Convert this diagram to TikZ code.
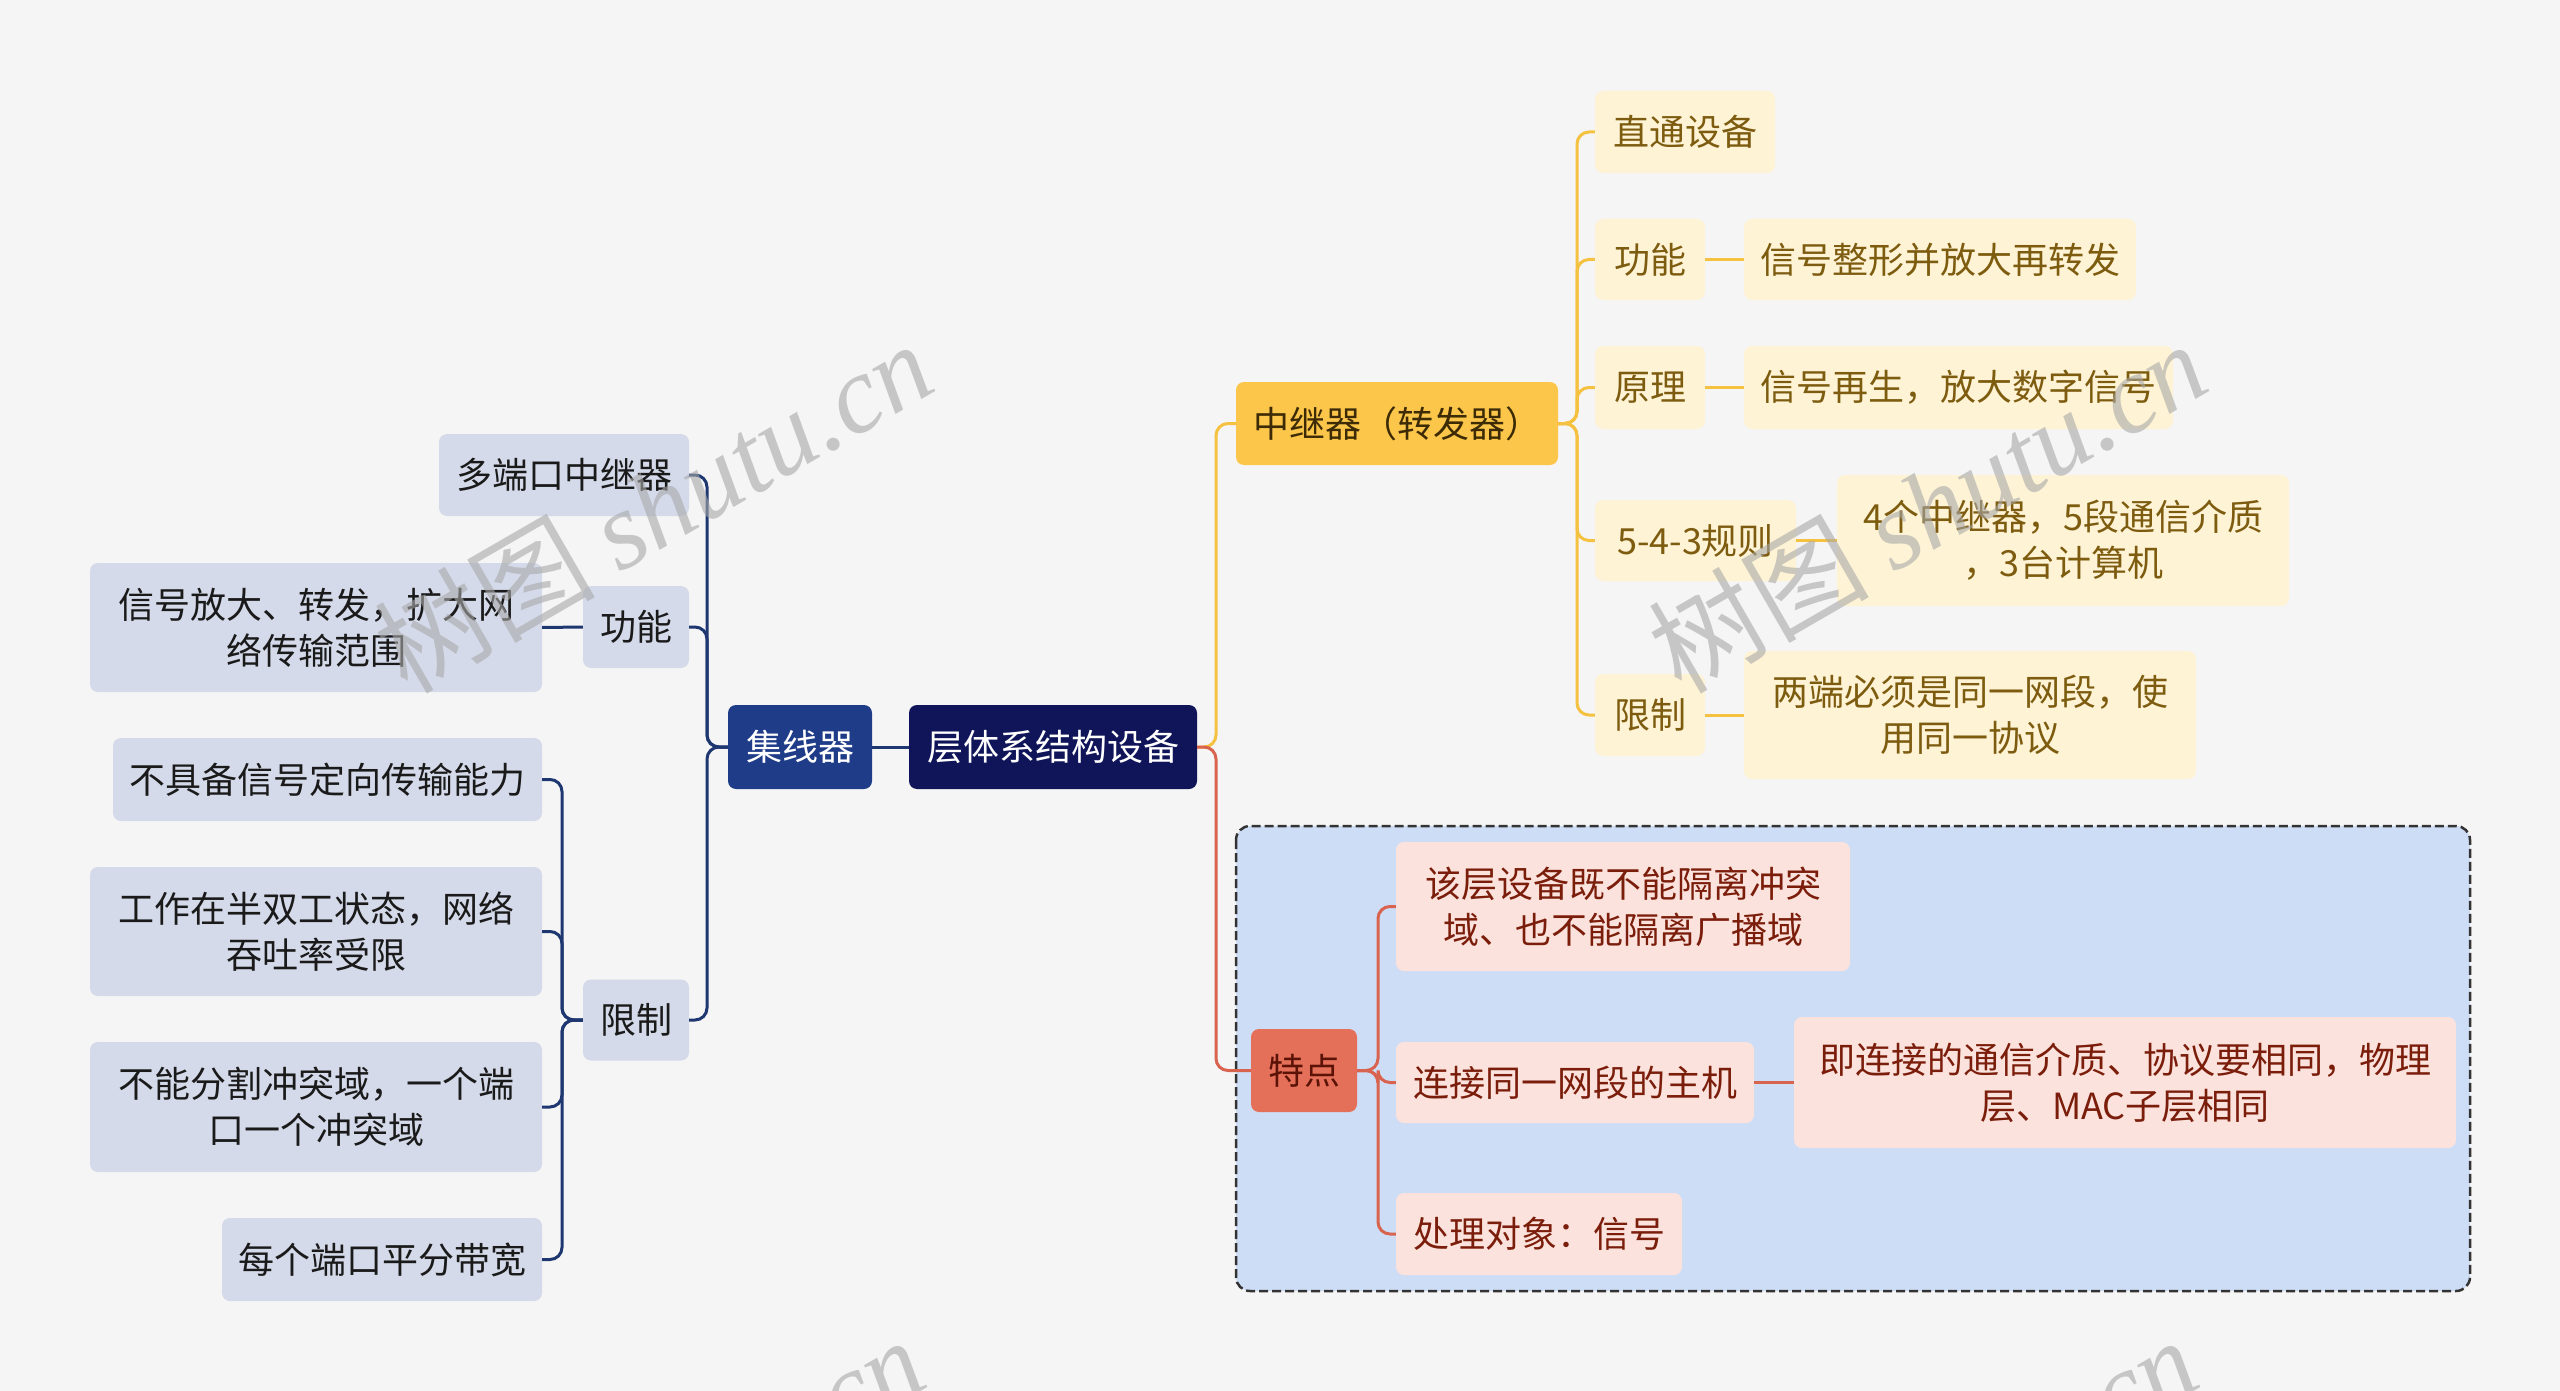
\documentclass[tikz,border=0pt]{standalone}
\usepackage{fontspec}
\setmainfont{Noto Sans CJK SC}
\newfontfamily\wmfont{Liberation Serif}
\usetikzlibrary{calc}
\definecolor{bg}{HTML}{F5F5F5}
\definecolor{rootc}{HTML}{0F1558}
\definecolor{hubc}{HTML}{1E3C87}
\definecolor{lfill}{HTML}{D4DAE9}
\definecolor{lline}{HTML}{1E3770}
\definecolor{ltext}{HTML}{1A1A1A}
\definecolor{yfill}{HTML}{FCC64B}
\definecolor{ytext}{HTML}{3D2B05}
\definecolor{ylight}{HTML}{FEF3D5}
\definecolor{ylt}{HTML}{7D5C10}
\definecolor{yline}{HTML}{F5C140}
\definecolor{rfill}{HTML}{E5705A}
\definecolor{rtext}{HTML}{5A1306}
\definecolor{rlight}{HTML}{FBE2DC}
\definecolor{rlt}{HTML}{7B1D0B}
\definecolor{rline}{HTML}{D8644F}
\definecolor{bluebox}{HTML}{CEDDF6}
\definecolor{wm}{HTML}{A8A8A8}
\tikzset{
  box/.style={rounded corners=8pt, inner sep=0pt, align=center, font=\fontsize{36}{46}\selectfont},
  rootbox/.style={box, fill=rootc, text=white},
  hubbox/.style={box, fill=hubc, text=white},
  lbox/.style={box, fill=lfill, text=ltext},
  ybox/.style={box, fill=yfill, text=ytext},
  ylbox/.style={box, fill=ylight, text=ylt},
  rbox/.style={box, fill=rfill, text=rtext},
  rlbox/.style={box, fill=rlight, text=rlt},
  conn/.style={line width=3pt, rounded corners=12pt},
  lconn/.style={conn, draw=lline},
  yconn/.style={conn, draw=yline},
  rconn/.style={conn, draw=rline},
  wmark/.style={text=wm, text opacity=0.6, rotate=30, font=\fontsize{110}{110}\selectfont},
}
\begin{document}
\begin{tikzpicture}[x=1pt,y=-1pt]
\fill[bg] (0,0) rectangle (2560,1391);
\useasboundingbox (0,0) rectangle (2560,1391);
% dashed group box
\draw[fill=bluebox, draw=black!80, line width=2.5pt, dash pattern=on 9pt off 4pt, rounded corners=14pt] (1236,826) rectangle (2470,1291);
% root and hub
\node[rootbox, minimum width=288, minimum height=84] (root) at (1053,747) {层体系结构设备};
\node[hubbox, minimum width=144, minimum height=84] (hub) at (800,747) {集线器};
% left side
\node[lbox, minimum width=250, minimum height=82] (mp) at (564,475) {多端口中继器};
\node[lbox, minimum width=106, minimum height=82] (gnL) at (636,627) {功能};
\node[lbox, minimum width=452, minimum height=129] (gnLd) at (316,627.5) {信号放大、转发，扩大网\\络传输范围};
\node[lbox, minimum width=106, minimum height=81] (xzL) at (636,1020) {限制};
\node[lbox, minimum width=429, minimum height=83] (xz1) at (327.5,779.5) {不具备信号定向传输能力};
\node[lbox, minimum width=452, minimum height=129] (xz2) at (316,931.5) {工作在半双工状态，网络\\吞吐率受限};
\node[lbox, minimum width=452, minimum height=130] (xz3) at (316,1107) {不能分割冲突域，一个端\\口一个冲突域};
\node[lbox, minimum width=320, minimum height=83] (xz4) at (382,1259.5) {每个端口平分带宽};
% right: repeater
\node[ybox, minimum width=322, minimum height=83] (rep) at (1397,423.5) {中继器（转发器）};
\node[ylbox, minimum width=180, minimum height=82] (zt) at (1685,132) {直通设备};
\node[ylbox, minimum width=110, minimum height=81] (gnR) at (1650,259.5) {功能};
\node[ylbox, minimum width=392, minimum height=81] (gnRd) at (1940,259.5) {信号整形并放大再转发};
\node[ylbox, minimum width=110, minimum height=83] (yl) at (1650,387.5) {原理};
\node[ylbox, minimum width=429, minimum height=83] (yld) at (1958.5,387.5) {信号再生，放大数字信号};
\node[ylbox, minimum width=201, minimum height=81] (gz) at (1695.5,540.5) {5-4-3规则};
\node[ylbox, minimum width=452, minimum height=131] (gzd) at (2063,540.5) {4个中继器，5段通信介质\\，3台计算机};
\node[ylbox, minimum width=110, minimum height=82] (xzR) at (1650,715) {限制};
\node[ylbox, minimum width=452, minimum height=128] (xzRd) at (1970,715) {两端必须是同一网段，使\\用同一协议};
% right: features
\node[rbox, minimum width=106, minimum height=83] (td) at (1304,1070.5) {特点};
\node[rlbox, minimum width=454, minimum height=129] (td1) at (1623,906.5) {该层设备既不能隔离冲突\\域、也不能隔离广播域};
\node[rlbox, minimum width=358, minimum height=81] (td2) at (1575,1082.5) {连接同一网段的主机};
\node[rlbox, minimum width=662, minimum height=131] (td2d) at (2125,1082.5) {即连接的通信介质、协议要相同，物理\\层、MAC子层相同};
\node[rlbox, minimum width=286, minimum height=82] (td3) at (1539,1234) {处理对象：信号};
% trunk coordinates
\coordinate (tL) at (707,747);
\coordinate (tXZ) at (562,1020);
\coordinate (tR) at (1216,747);
\coordinate (tY) at (1577,423.5);
\coordinate (tT) at (1378,1070.5);
% left connectors
\draw[lconn] (root.west) -- (hub.east);
\draw[lconn] (hub.west) -- (tL) |- (mp.east);
\draw[lconn] (hub.west) -- (tL) |- (gnL.east);
\draw[lconn] (hub.west) -- (tL) |- (xzL.east);
\draw[lconn] (gnL.west) -- (gnLd.east);
\draw[lconn] (xzL.west) -- (tXZ) |- (xz1.east);
\draw[lconn] (xzL.west) -- (tXZ) |- (xz2.east);
\draw[lconn] (xzL.west) -- (tXZ) |- (xz3.east);
\draw[lconn] (xzL.west) -- (tXZ) |- (xz4.east);
% right connectors
\draw[yconn] (root.east) -- (tR) |- (rep.west);
\draw[rconn] (root.east) -- (tR) |- (td.west);
\draw[yconn] (rep.east) -- (tY) |- (zt.west);
\draw[yconn] (rep.east) -- (tY) |- (gnR.west);
\draw[yconn] (rep.east) -- (tY) |- (yl.west);
\draw[yconn] (rep.east) -- (tY) |- (gz.west);
\draw[yconn] (rep.east) -- (tY) |- (xzR.west);
\draw[yconn] (gnR.east) -- (gnRd.west);
\draw[yconn] (yl.east) -- (yld.west);
\draw[yconn] (gz.east) -- (gzd.west);
\draw[yconn] (xzR.east) -- (xzRd.west);
\draw[rconn] (td.east) -- (tT) |- (td1.west);
\draw[rconn] (td.east) -- (tT) |- (td2.west);
\draw[rconn] (td.east) -- (tT) |- (td3.west);
\draw[rconn] (td2.east) -- (td2d.west);
% watermarks
\begin{scope}
\clip (0,0) rectangle (2560,1391);
\node[wmark] (wm1) at (653,506) {树图 {\wmfont\itshape shutu.cn}};
\node[wmark] (wm2) at (1927,506) {树图 {\wmfont\itshape shutu.cn}};
\node[wmark] (wm3) at (645,1502) {树图 {\wmfont\itshape shutu.cn}};
\node[wmark] (wm4) at (1918,1502) {树图 {\wmfont\itshape shutu.cn}};
\end{scope}
\end{tikzpicture}
\end{document}
